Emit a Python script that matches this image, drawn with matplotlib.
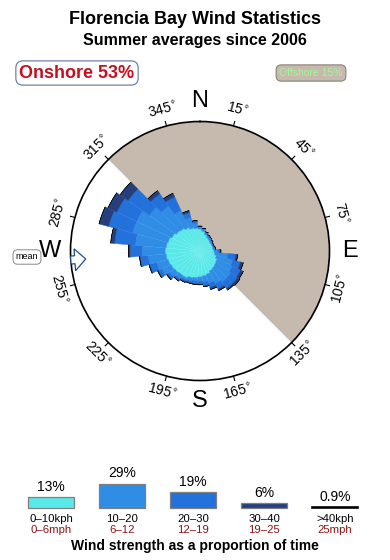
import numpy as np
import matplotlib
matplotlib.use("Agg")
import matplotlib.pyplot as plt
from matplotlib.patches import Polygon

plt.rcParams['font.family'] = ['Liberation Sans', 'DejaVu Sans']

# ---------------- data ----------------
title = "Florencia Bay Wind Statistics"
subtitle = "Summer averages since 2006"
onshore_label = "Onshore 53%"
offshore_label = "Offshore 15%"

directions = list(range(0, 360, 10))  # bin centres, degrees clockwise from N
# per-direction contribution of each speed class (radial units, circle = 130)
speed_0_10 = [22, 20, 17, 15, 14, 13, 13, 13, 13, 14, 15, 17, 19, 20, 21, 22, 24, 25,
              26, 27, 28, 30, 30, 31, 32, 33, 34, 35, 34, 33, 31, 29, 28, 26, 24, 23]
speed_10_20 = [2, 2, 2, 2, 2, 2, 1, 1, 2, 4, 13, 17, 17, 18, 17, 14, 9, 6,
               4, 3, 3, 2, 4, 6, 10, 12, 18, 23, 31, 37, 39, 33, 27, 19, 11, 5]
speed_20_30 = [1, 1, 1, 1, 1, 1, 1, 1, 1, 2, 8, 8, 9, 8, 8, 6, 5, 4,
               3, 3, 2, 2, 2, 3, 4, 7, 8, 12, 21, 25, 22, 26, 15, 15, 5, 2]
speed_30_40 = [0, 0, 0, 0, 0, 0, 0, 0, 0, 1, 2, 3, 3, 3, 2, 2, 2, 1,
               1, 1, 1, 1, 1, 1, 1, 1, 1, 2, 4, 10, 10, 10, 4, 4, 2, 1]
speed_over_40 = [0] * 36

offshore_start, offshore_end = 315, 135  # clockwise sector
mean_direction = 266
degree_ticks = [15, 45, 75, 105, 135, 165, 195, 225, 255, 285, 315, 345]
cardinals = ["N", "E", "S", "W"]
cardinal_angles = [0, 90, 180, 270]

class_pct = [13, 29, 19, 6, 0.9]
class_pct_labels = ["13%", "29%", "19%", "6%", "0.9%"]
class_kph = ["0\u201310kph", "10\u201320", "20\u201330", "30\u201340", ">40kph"]
class_mph = ["0\u20136mph", "6\u201312", "12\u201319", "19\u201325", "25mph"]
footer = "Wind strength as a proportion of time"

colors = ["#5ae9e9", "#2f8de6", "#2372dc", "#243f7c", "#000000"]
R = 130

# ---------------- figure ----------------
W, H = 390, 560
fig = plt.figure(figsize=(W / 100, H / 100), dpi=100)

cx, cy, rad = 200, 251, 129.5
ax = fig.add_axes([(cx - rad) / W, (H - cy - rad) / H, 2 * rad / W, 2 * rad / H],
                  projection='polar')
ax.set_theta_zero_location('N')
ax.set_theta_direction(-1)
ax.set_ylim(0, R)
ax.grid(False)
ax.set_xticks([])
ax.set_yticks([])
ax.spines['polar'].set_linewidth(1.2)
ax.spines['polar'].set_color('black')

# offshore sector
span = (offshore_end - offshore_start) % 360
mid = offshore_start + span / 2
ax.bar(np.deg2rad(mid), R, width=np.deg2rad(span), bottom=0,
       color='#c5baad', edgecolor='none', zorder=1)

# rose
theta = np.deg2rad(directions)
width = np.deg2rad(10)
bottom = np.zeros(len(directions))
edge_cols = ["#74efef", "#3f95e9", "#2c78de", "#2c4782", "#000000"]
for vals, col, ec in zip([speed_0_10, speed_10_20, speed_20_30, speed_30_40, speed_over_40],
                         colors, edge_cols):
    v = np.array(vals, dtype=float)
    ax.bar(theta, v, width=width, bottom=bottom, color=col, edgecolor=ec,
           linewidth=0.3, zorder=3)
    bottom += v

# ticks + degree labels
for b in degree_ticks:
    t = np.deg2rad(b)
    ax.plot([t, t], [R, R * 1.035], color='black', lw=0.8, clip_on=False, zorder=5)
    rot = ((-b + 90) % 180) - 90
    ax.text(t, R * 1.125, f"{b}$^{{\\circ}}$", rotation=rot, rotation_mode='anchor',
            ha='center', va='center', fontsize=10, clip_on=False)

for lab, a in zip(cardinals, cardinal_angles):
    ax.text(np.deg2rad(a), R * 1.155, lab, ha='center', va='center', fontsize=17,
            clip_on=False)

# mean arrow (overlay cartesian axes)
axc = fig.add_axes(ax.get_position().bounds)
axc.set_xlim(-R, R)
axc.set_ylim(-R, R)
axc.set_aspect('equal')
axc.axis('off')
axc.patch.set_alpha(0)
m = np.deg2rad(mean_direction)
u = np.array([np.sin(m), np.cos(m)])   # outward
n = np.array([np.cos(m), -np.sin(m)])  # normal
def pt(r, w):
    return r * u + w * n
arrow = [pt(115, 0), pt(126, 11), pt(126, 4), pt(130, 4), pt(130, -4), pt(126, -4), pt(126, -11)]
axc.add_patch(Polygon(arrow, closed=True, fc='white', ec='#1f4e8a', lw=0.9, zorder=10,
                      clip_on=False))

fig.text(27 / W, 1 - 257 / H, "mean", fontsize=6.5, ha='center', va='center',
         bbox=dict(boxstyle='round,pad=0.3,rounding_size=0.5', fc='white', ec='#888888', lw=0.7))

# titles
fig.text(0.5, 1 - 20 / H, title, ha='center', va='center', fontsize=13, fontweight='bold')
fig.text(0.5, 1 - 41 / H, subtitle, ha='center', va='center', fontsize=11.5, fontweight='bold')

fig.text(77 / W, 1 - 73 / H, onshore_label, ha='center', va='center', fontsize=13,
         fontweight='bold', color='#c4101e',
         bbox=dict(boxstyle='round,pad=0.2,rounding_size=0.4', fc='white', ec='#6a84aa', lw=0.9))
fig.text(311 / W, 1 - 73 / H, offshore_label, ha='center', va='center', fontsize=7.5,
         color='#a6f59a',
         bbox=dict(boxstyle='round,pad=0.3,rounding_size=0.5', fc='#c5baad', ec='#8a8178', lw=0.8))

# ---------------- legend ----------------
axl = fig.add_axes([0, 0, 1, 100 / H])
sp = 71.0
x0 = 51.0
pxp = 0.83
axl.set_xlim(-x0 / sp, (W - x0) / sp)
axl.set_ylim(-(560 - 508) / pxp, (508 - 460) / pxp)
axl.axis('off')
for i, (p, c) in enumerate(zip(class_pct, colors)):
    ec = '#7f7f7f' if i < 4 else 'black'
    axl.bar(i, p, width=46 / sp, bottom=0, color=c, edgecolor=ec, linewidth=0.9 if i < 4 else 1.2)
    axl.annotate(class_pct_labels[i], (i, p), xytext=(0, 2.5), textcoords='offset points',
                 ha='center', va='bottom', fontsize=10)
    axl.annotate(class_kph[i], (i, 0), xytext=(0, -7.6), textcoords='offset points',
                 ha='center', va='center', fontsize=8.2)
    axl.annotate(class_mph[i], (i, 0), xytext=(0, -15.8), textcoords='offset points',
                 ha='center', va='center', fontsize=8.2, color='#8b1414')

fig.text(0.5, 1 - 546 / H, footer, ha='center', va='center', fontsize=10, fontweight='bold')

fig.savefig("out.png", dpi=100)
